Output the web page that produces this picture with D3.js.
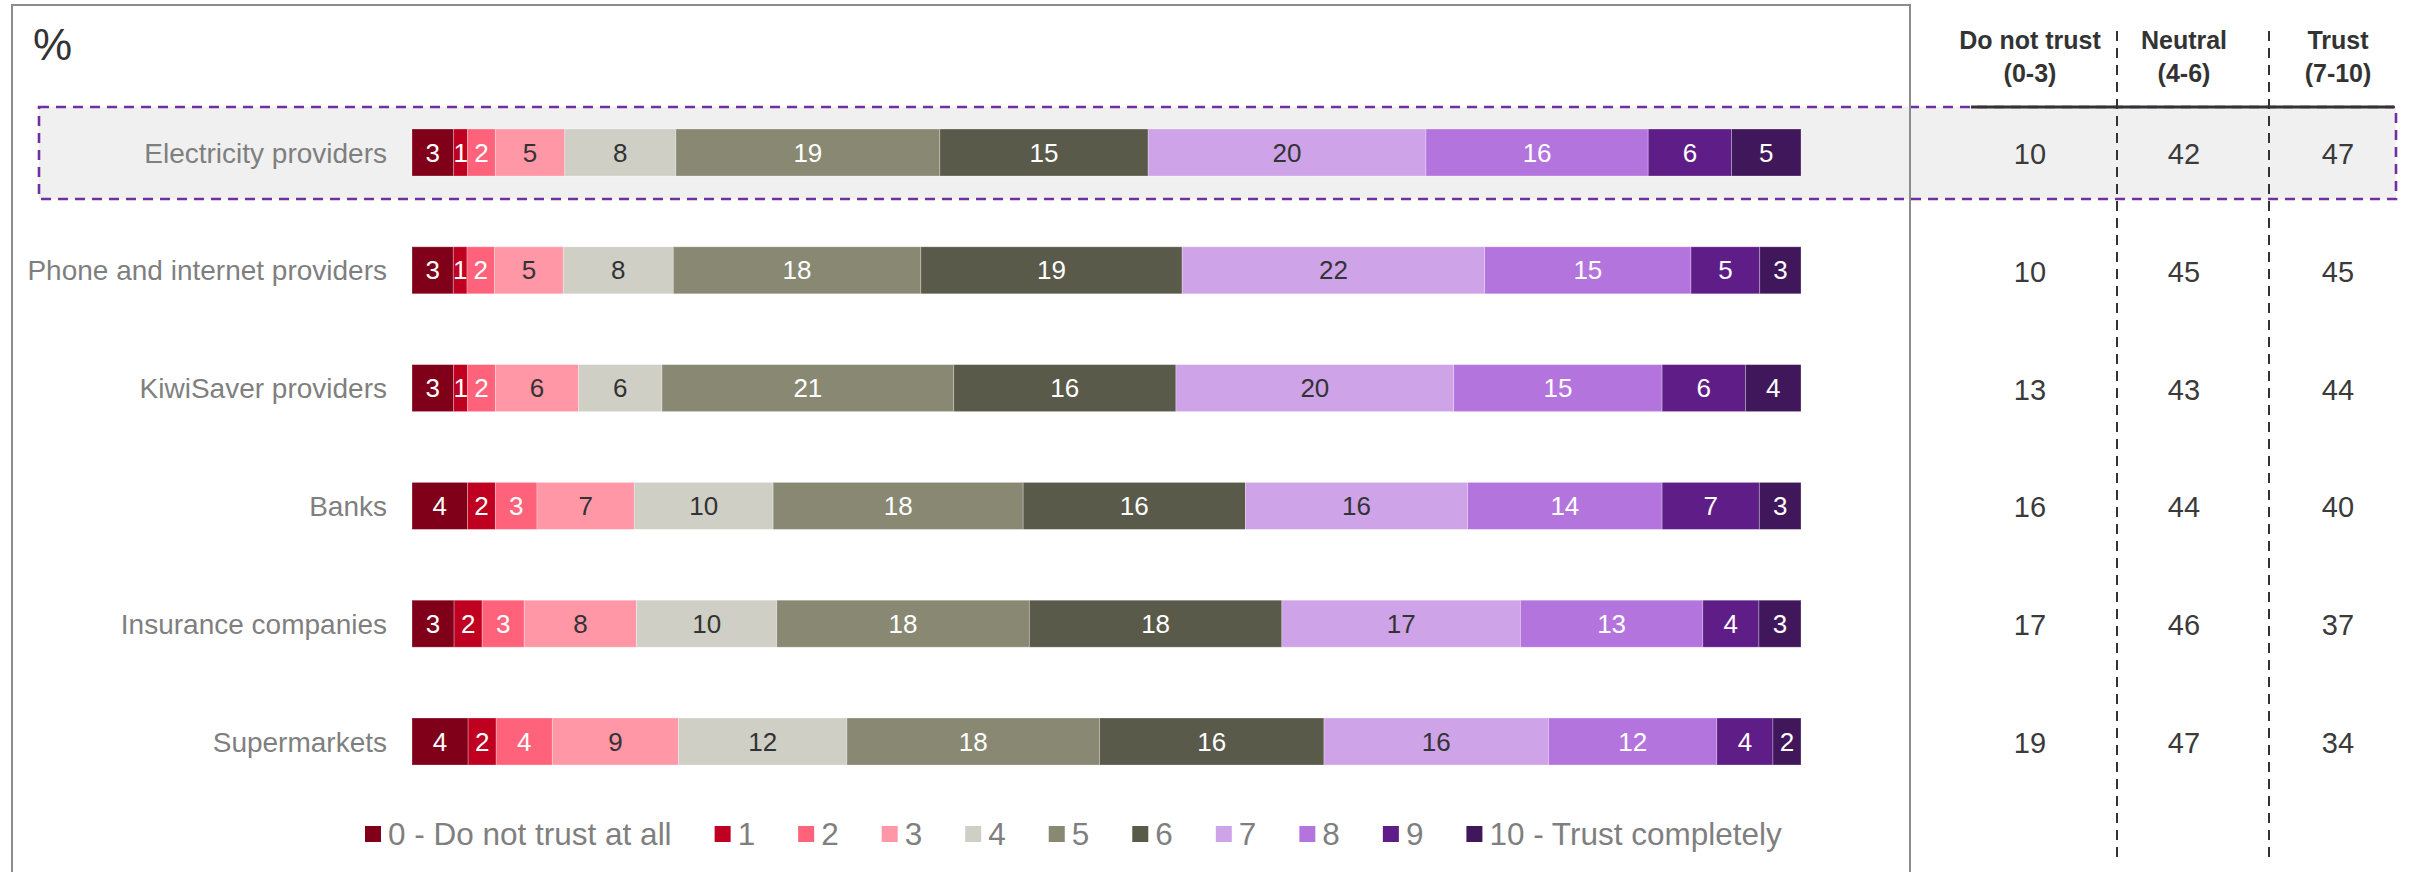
<!DOCTYPE html>
<html>
<head>
<meta charset="utf-8">
<script src="https://cdn.jsdelivr.net/npm/d3@7"></script>
<style>
  html, body { margin: 0; padding: 0; background: #fff; }
  svg { display: block; font-family: "Liberation Sans", Arial, sans-serif; }
</style>
</head>
<body>
<div id="chart"></div>
<script>
// Trust ratings by sector, % (0 = do not trust at all ... 10 = trust completely)
var categories = [
  'Electricity providers',
  'Phone and internet providers',
  'KiwiSaver providers',
  'Banks',
  'Insurance companies',
  'Supermarkets'
];
var scoreLabels = ['0 - Do not trust at all', '1', '2', '3', '4', '5', '6', '7', '8', '9', '10 - Trust completely'];
var electricity = [3, 1, 2, 5, 8, 19, 15, 20, 16, 6, 5];
var phone       = [3, 1, 2, 5, 8, 18, 19, 22, 15, 5, 3];
var kiwisaver   = [3, 1, 2, 6, 6, 21, 16, 20, 15, 6, 4];
var banks       = [4, 2, 3, 7, 10, 18, 16, 16, 14, 7, 3];
var insurance   = [3, 2, 3, 8, 10, 18, 18, 17, 13, 4, 3];
var supermkts   = [4, 2, 4, 9, 12, 18, 16, 16, 12, 4, 2];
var seriesValues = [electricity, phone, kiwisaver, banks, insurance, supermkts];

// summary columns
var tableHeaders = [['Do not trust', '(0-3)'], ['Neutral', '(4-6)'], ['Trust', '(7-10)']];
var doNotTrust = [10, 10, 13, 16, 17, 19];
var neutral    = [42, 45, 43, 44, 46, 47];
var trust      = [47, 45, 44, 40, 37, 34];
var highlighted = 'Electricity providers';

var palette = ['#7f0018', '#bf0021', '#ff637b', '#ff97a7', '#cfcfc6', '#888873',
               '#5a5a4b', '#cea3e8', '#b474de', '#5f1e87', '#41175b'];
var darkText = [3, 4, 7]; // light segments get dark labels

var W = 2425, H = 872;
var svg = d3.select('#chart').append('svg')
  .attr('width', W).attr('height', H)
  .attr('viewBox', '0 0 ' + W + ' ' + H);

var x = d3.scaleLinear().domain([0, 100]).range([412, 1801]);
var y = d3.scalePoint().domain(categories).range([152.5, 741.5]);
var barH = 47;
var colX = d3.scalePoint().domain([0, 1, 2]).range([2030, 2338]);

// highlight box behind the first row
var hy = y(highlighted);
svg.append('rect')
  .attr('x', 39).attr('y', hy - 45.5)
  .attr('width', 2396 - 39).attr('height', 92)
  .attr('fill', '#f0f0f0')
  .attr('stroke', '#7030a0')
  .attr('stroke-width', 2.6)
  .attr('stroke-dasharray', '10,7');

// outer frame round the chart part
svg.append('rect')
  .attr('x', 12).attr('y', 5)
  .attr('width', 1910 - 12).attr('height', H + 20)
  .attr('fill', 'none')
  .attr('stroke', '#8c8c8c')
  .attr('stroke-width', 2);

svg.append('text')
  .attr('x', 33).attr('y', 60)
  .attr('font-size', 44).attr('fill', '#333')
  .text('%');

// stacked bars
var rows = svg.append('g').selectAll('g')
  .data(categories)
  .join('g')
  .attr('transform', function (d) { return 'translate(0,' + y(d) + ')'; });

rows.append('text')
  .attr('x', 387).attr('y', 10)
  .attr('text-anchor', 'end')
  .attr('font-size', 28).attr('fill', '#7f7f7f')
  .text(function (d) { return d; });

rows.each(function (cat, i) {
  var vals = seriesValues[i];
  var total = d3.sum(vals);
  var cum = 0;
  var segs = vals.map(function (v, k) {
    var s = { k: k, v: v, a: cum / total * 100, b: (cum + v) / total * 100 };
    cum += v;
    return s;
  });
  var g = d3.select(this);
  g.selectAll('rect.seg')
    .data(segs)
    .join('rect')
    .attr('class', 'seg')
    .attr('x', function (d) { return x(d.a); })
    .attr('y', -barH / 2)
    .attr('width', function (d) { return x(d.b) - x(d.a); })
    .attr('height', barH)
    .attr('fill', function (d) { return palette[d.k]; })
    .attr('stroke', '#fff')
    .attr('stroke-opacity', 0.35)
    .attr('stroke-width', 0.8);
  g.selectAll('text.val')
    .data(segs)
    .join('text')
    .attr('class', 'val')
    .attr('x', function (d) { return (x(d.a) + x(d.b)) / 2; })
    .attr('y', 9)
    .attr('text-anchor', 'middle')
    .attr('font-size', 26)
    .attr('fill', function (d) { return darkText.indexOf(d.k) >= 0 ? '#333' : '#fff'; })
    .text(function (d) { return d.v; });
});

// summary table on the right
var headG = svg.append('g');
tableHeaders.forEach(function (lines, j) {
  lines.forEach(function (t, li) {
    headG.append('text')
      .attr('x', colX(j)).attr('y', 49 + li * 33)
      .attr('text-anchor', 'middle')
      .attr('font-size', 25).attr('font-weight', 'bold')
      .attr('fill', '#333')
      .text(t);
  });
});

[2117, 2269].forEach(function (lx) {
  svg.append('line')
    .attr('x1', lx).attr('x2', lx)
    .attr('y1', 31).attr('y2', 858)
    .attr('stroke', '#333').attr('stroke-width', 2)
    .attr('stroke-dasharray', '10,7');
});

svg.append('line')
  .attr('x1', 1971).attr('x2', 2394)
  .attr('y1', 107).attr('y2', 107)
  .attr('stroke', '#333').attr('stroke-width', 3);

var cols = [doNotTrust, neutral, trust];
cols.forEach(function (arr, j) {
  svg.append('g').selectAll('text')
    .data(arr)
    .join('text')
    .attr('x', colX(j))
    .attr('y', function (d, i) { return y(categories[i]) + 11.5; })
    .attr('text-anchor', 'middle')
    .attr('font-size', 29).attr('fill', '#3a3a3a')
    .text(function (d) { return d; });
});

// legend
var legend = svg.append('g');
var lx = 365;
scoreLabels.forEach(function (lab, k) {
  legend.append('rect')
    .attr('x', lx).attr('y', 826)
    .attr('width', 16).attr('height', 16)
    .attr('fill', palette[k]);
  var t = legend.append('text')
    .attr('x', lx + 23).attr('y', 845)
    .attr('font-size', 31.5).attr('fill', '#7f7f7f')
    .text(lab);
  lx += 23 + t.node().getComputedTextLength() + 43;
});
</script>
</body>
</html>
